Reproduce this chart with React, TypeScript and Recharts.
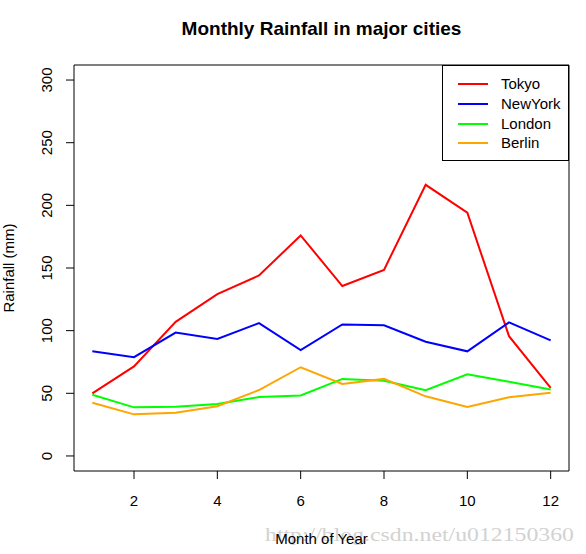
import React from 'react';
import { LineChart, Line, XAxis, YAxis, ReferenceArea, Legend } from 'recharts';

const months = [1, 2, 3, 4, 5, 6, 7, 8, 9, 10, 11, 12];
const tokyo = [49.9, 71.5, 107, 129.2, 144.0, 176.0, 135.6, 148.5, 216.4, 194.1, 95.6, 54.4];
const newYork = [83.6, 78.8, 98.5, 93.4, 106.0, 84.5, 105.0, 104.3, 91.2, 83.5, 106.6, 92.3];
const london = [48.9, 38.8, 39.3, 41.4, 47.0, 48.3, 61.5, 60.0, 52.4, 65.2, 59.3, 53.0];
const berlin = [42.4, 33.2, 34.5, 39.7, 52.6, 70.8, 57.4, 61.5, 47.6, 39.1, 46.8, 50.5];

const xTicks = [2, 4, 6, 8, 10, 12];
const yTicks = [0, 50, 100, 150, 200, 250, 300];

const series = [
  { key: 'Tokyo', values: tokyo, color: '#FF0000' },
  { key: 'NewYork', values: newYork, color: '#0000FF' },
  { key: 'London', values: london, color: '#00FF00' },
  { key: 'Berlin', values: berlin, color: '#FFA500' },
];

const data = months.map((m, i) => {
  const row: Record<string, number> = { month: m };
  series.forEach((s) => {
    row[s.key] = s.values[i];
  });
  return row;
});

const FONT = '"Liberation Sans", Arial, sans-serif';

function YTick(props: any) {
  const { y, payload } = props;
  const bx = 52;
  return (
    <text
      x={bx}
      y={y}
      transform={`rotate(-90, ${bx}, ${y})`}
      textAnchor="middle"
      fontSize={15}
      fill="#000"
      fontFamily={FONT}
    >
      {payload.value}
    </text>
  );
}

function XTick(props: any) {
  const { x, payload } = props;
  return (
    <text x={x} y={506} textAnchor="middle" fontSize={15} fill="#000" fontFamily={FONT}>
      {payload.value}
    </text>
  );
}

// legend drawn from the series list so the order stays Tokyo, NewYork, London, Berlin
function LegendBox() {
  return (
    <div
      style={{
        width: 127,
        height: 96,
        border: '1px solid #000',
        boxSizing: 'border-box',
        background: '#fff',
        position: 'relative',
        fontFamily: FONT,
        fontSize: 15,
      }}
    >
      {series.map((s, i) => (
        <div key={s.key} style={{ position: 'absolute', left: 0, top: 9 + i * 19.8, height: 19, width: 127 }}>
          <div style={{ position: 'absolute', left: 15, top: 8, width: 30, height: 2, background: s.color }} />
          <div style={{ position: 'absolute', left: 58, top: 0, lineHeight: '18px', color: '#000' }}>{s.key}</div>
        </div>
      ))}
    </div>
  );
}

export default function App() {
  return (
    <div style={{ position: 'absolute', left: 0, top: 0, width: 586, height: 554, background: '#fff', fontFamily: FONT }}>
      <LineChart width={586} height={554} data={data} margin={{ top: 65, right: 17, bottom: 0, left: 0 }}>
        <XAxis
          dataKey="month"
          type="number"
          domain={[0.56, 12.44]}
          ticks={xTicks}
          allowDataOverflow
          axisLine={false}
          tickLine={{ stroke: '#000' }}
          tickSize={8}
          height={83}
          tick={<XTick />}
        />
        <YAxis
          type="number"
          domain={[-12, 312]}
          ticks={yTicks}
          allowDataOverflow
          axisLine={false}
          tickLine={{ stroke: '#000' }}
          tickSize={8}
          width={74}
          tick={<YTick />}
        />
        <ReferenceArea x1={0.56} x2={12.44} y1={-12} y2={312} fill="none" stroke="#000" strokeWidth={1} />
        {series.map((s) => (
          <Line
            key={s.key}
            dataKey={s.key}
            stroke={s.color}
            strokeWidth={2}
            dot={false}
            activeDot={false}
            isAnimationActive={false}
            type="linear"
          />
        ))}
        <Legend
          layout="vertical"
          align="center"
          verticalAlign="middle"
          content={<LegendBox />}
          wrapperStyle={{ position: 'absolute', left: 442, top: 65, width: 127, height: 96 }}
        />
      </LineChart>
      <svg width={586} height={554} style={{ position: 'absolute', left: 0, top: 0, pointerEvents: 'none' }}>
        <text x={321.5} y={35} textAnchor="middle" fontSize={19} fontWeight="bold" fontFamily={FONT} fill="#000">
          Monthly Rainfall in major cities
        </text>
        <text
          x={265}
          y={541}
          fontSize={19}
          fontFamily={'"Liberation Serif", serif'}
          fill="#d2d2d2"
          textLength={309}
          lengthAdjust="spacingAndGlyphs"
        >
          http://blog.csdn.net/u012150360
        </text>
        <text x={321.5} y={544} textAnchor="middle" fontSize={15} fontFamily={FONT} fill="#000">
          Month of Year
        </text>
        <text
          x={14}
          y={268}
          transform="rotate(-90, 14, 268)"
          textAnchor="middle"
          fontSize={15}
          fontFamily={FONT}
          fill="#000"
        >
          Rainfall (mm)
        </text>
      </svg>
    </div>
  );
}
